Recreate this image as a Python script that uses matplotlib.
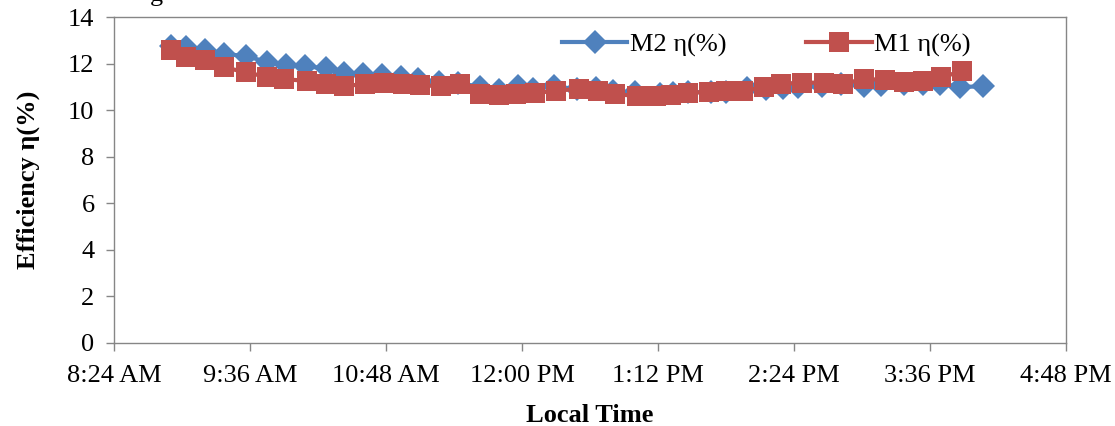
import pandas as pd
import matplotlib
matplotlib.use("Agg")
import matplotlib.pyplot as plt

# readings (local time, efficiency %)
m2_times = ["08:54", "09:02", "09:12", "09:22", "09:34", "09:45", "09:55", "10:05",
            "10:16", "10:26", "10:36", "10:46", "10:56", "11:05", "11:16", "11:26",
            "11:38", "11:48", "11:58", "12:06", "12:17", "12:29", "12:39", "12:48",
            "13:00", "13:13", "13:20", "13:28", "13:40", "13:48", "13:59", "14:09",
            "14:18", "14:26", "14:39", "14:49", "15:01", "15:10", "15:22", "15:32",
            "15:41", "15:52", "16:04"]
m2_eff = [12.75, 12.70, 12.60, 12.42, 12.32, 12.07, 11.96, 11.89,
          11.79, 11.60, 11.56, 11.53, 11.42, 11.32, 11.22, 11.17,
          11.00, 10.85, 11.03, 10.93, 11.03, 10.90, 10.97, 10.82,
          10.77, 10.70, 10.72, 10.77, 10.77, 10.80, 10.97, 10.90,
          10.95, 11.00, 11.02, 11.12, 11.04, 11.07, 11.12, 11.12,
          11.12, 11.00, 11.02]

m1_times = ["08:54", "09:02", "09:12", "09:22", "09:34", "09:45", "09:54", "10:06",
            "10:16", "10:26", "10:37", "10:47", "10:57", "11:06", "11:17", "11:27",
            "11:38", "11:48", "11:57", "12:07", "12:18", "12:30", "12:40", "12:49",
            "13:01", "13:11", "13:19", "13:28", "13:39", "13:48", "13:57", "14:08",
            "14:17", "14:28", "14:40", "14:50", "15:01", "15:12", "15:22", "15:32",
            "15:42", "15:53"]
m1_eff = [12.57, 12.29, 12.17, 11.85, 11.62, 11.43, 11.33, 11.26,
          11.12, 11.04, 11.12, 11.15, 11.12, 11.07, 11.03, 11.12,
          10.69, 10.66, 10.70, 10.73, 10.84, 10.91, 10.82, 10.69,
          10.61, 10.59, 10.64, 10.75, 10.78, 10.82, 10.82, 10.99,
          11.12, 11.18, 11.18, 11.13, 11.34, 11.30, 11.20, 11.24,
          11.42, 11.67]

xtick_labels = ["8:24 AM", "9:36 AM", "10:48 AM", "12:00 PM",
                "1:12 PM", "2:24 PM", "3:36 PM", "4:48 PM"]
ytick_values = [0, 2, 4, 6, 8, 10, 12, 14]


def to_dt(values, fmt):
    return pd.to_datetime(["2000-01-01 " + v for v in values], format="%Y-%m-%d " + fmt)


plt.rcParams['font.family'] = ['Liberation Serif', 'DejaVu Serif']

fig = plt.figure(figsize=(11.15, 4.26), dpi=100)
ax = fig.add_axes([0.1022, 0.195, 0.854, 0.765])

blue = "#4F81BD"
red = "#C0504D"
grey = "#868686"

ax.plot(to_dt(m2_times, "%H:%M"), m2_eff, color=blue, lw=3, marker="D",
        ms=12, markeredgewidth=0, label="M2 η(%)")
ax.plot(to_dt(m1_times, "%H:%M"), m1_eff, color=red, lw=3, marker="s",
        ms=14.5, markeredgewidth=0, label="M1 η(%)")

xticks = to_dt(xtick_labels, "%I:%M %p")
ax.set_xlim(xticks[0], xticks[-1])
ax.set_xticks(xticks)
ax.set_xticklabels(xtick_labels)
ax.set_ylim(0, 14)
ax.set_yticks(ytick_values)

ax.tick_params(axis="both", direction="out", length=6, width=1, color=grey,
               labelsize=19)
ax.tick_params(axis="x", pad=10)
ax.tick_params(axis="y", pad=8)
for s in ax.spines.values():
    s.set_color(grey)
    s.set_linewidth(1)

ax.set_xlabel("Local Time", fontsize=19, fontweight="bold", labelpad=12)
ax.set_ylabel("Efficiency η(%)", fontsize=19, fontweight="bold", labelpad=20)

ax.legend(loc="center", bbox_to_anchor=(0.685, 0.914), ncol=2, frameon=False,
          fontsize=19, handlelength=2.5, handletextpad=0.1, columnspacing=3.0)

# cut-off caption text at the top edge of the picture
fig.text(0.134, 0.997, "g", fontsize=19, va="baseline")

fig.savefig("out.png", dpi=100)
